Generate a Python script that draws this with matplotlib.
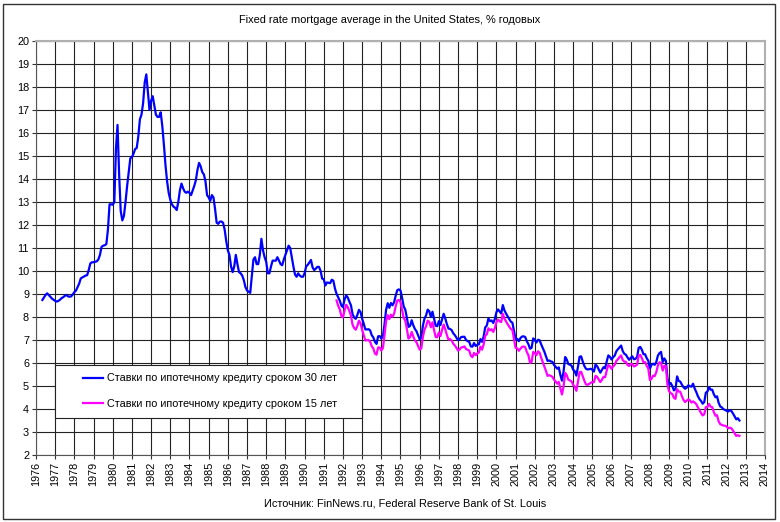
import numpy as np
import matplotlib.pyplot as plt
from matplotlib.patches import Rectangle

plt.rcParams['font.family'] = ['Liberation Sans', 'DejaVu Sans']

# 30-year fixed rate, monthly averages, May 1976 .. Sep 2012
rate30_start = 1976 + 4 / 12
rate30 = [
    # 1976 (May-Dec)
    8.74, 8.85, 8.96, 9.03, 8.95, 8.88, 8.80, 8.75,
    # 1977
    8.70, 8.67, 8.70, 8.75, 8.82, 8.86, 8.92, 8.96, 8.90, 8.88, 8.90, 8.98,
    # 1978
    9.08, 9.15, 9.30, 9.45, 9.68, 9.72, 9.76, 9.80, 9.82, 10.05, 10.33, 10.38,
    # 1979
    10.38, 10.40, 10.42, 10.50, 10.70, 11.05, 11.10, 11.12, 11.17, 11.80, 12.90, 12.90,
    # 1980
    12.88, 13.00, 15.30, 16.35, 14.20, 12.60, 12.20, 12.40, 13.00, 13.70, 14.30, 14.90,
    # 1981
    14.95, 15.10, 15.30, 15.35, 15.85, 16.60, 16.80, 17.30, 18.20, 18.55, 17.80, 17.00,
    # 1982
    17.40, 17.60, 17.20, 16.80, 16.70, 16.70, 16.90, 16.30, 15.50, 14.60, 13.90, 13.40,
    # 1983
    13.10, 12.90, 12.80, 12.75, 12.65, 13.00, 13.50, 13.80, 13.60, 13.45, 13.40, 13.45,
    # 1984
    13.40, 13.30, 13.50, 13.70, 13.95, 14.40, 14.70, 14.55, 14.30, 14.20, 13.90, 13.30,
    # 1985
    13.20, 13.05, 13.30, 13.20, 12.70, 12.10, 12.05, 12.15, 12.15, 12.10, 11.80, 11.30,
    # 1986
    10.90, 10.70, 10.20, 9.95, 10.20, 10.70, 10.30, 9.95, 9.90, 9.80, 9.60, 9.30,
    # 1987
    9.15, 9.10, 9.05, 9.80, 10.50, 10.60, 10.30, 10.30, 10.70, 11.40, 10.90, 10.60,
    # 1988
    10.40, 9.90, 9.90, 10.20, 10.45, 10.45, 10.45, 10.60, 10.45, 10.30, 10.25, 10.50,
    # 1989
    10.70, 10.90, 11.10, 11.00, 10.60, 10.20, 9.85, 9.75, 9.90, 9.80, 9.75, 9.75,
    # 1990
    9.90, 10.20, 10.27, 10.37, 10.48, 10.16, 10.04, 10.10, 10.18, 10.18, 10.01, 9.67,
    # 1991
    9.64, 9.37, 9.50, 9.49, 9.47, 9.62, 9.58, 9.24, 9.01, 8.86, 8.71, 8.50,
    # 1992
    8.43, 8.76, 8.94, 8.85, 8.67, 8.51, 8.13, 7.98, 7.92, 8.09, 8.31, 8.22,
    # 1993
    7.92, 7.71, 7.46, 7.46, 7.47, 7.42, 7.21, 7.11, 6.92, 6.83, 7.16, 7.17,
    # 1994
    7.06, 7.15, 7.68, 8.32, 8.60, 8.40, 8.61, 8.51, 8.64, 8.93, 9.17, 9.20,
    # 1995
    9.15, 8.83, 8.46, 8.32, 7.96, 7.57, 7.61, 7.86, 7.64, 7.48, 7.38, 7.20,
    # 1996
    7.03, 7.08, 7.62, 7.93, 8.07, 8.32, 8.25, 8.00, 8.23, 7.92, 7.62, 7.60,
    # 1997
    7.82, 7.65, 7.90, 8.14, 7.94, 7.69, 7.50, 7.48, 7.43, 7.29, 7.21, 7.10,
    # 1998
    6.99, 7.04, 7.13, 7.14, 7.14, 7.00, 6.95, 6.92, 6.72, 6.71, 6.87, 6.74,
    # 1999
    6.79, 6.81, 7.04, 6.92, 7.15, 7.55, 7.63, 7.94, 7.82, 7.85, 7.74, 7.91,
    # 2000
    8.21, 8.33, 8.24, 8.15, 8.52, 8.29, 8.15, 8.03, 7.91, 7.80, 7.75, 7.38,
    # 2001
    7.03, 7.05, 6.95, 7.08, 7.15, 7.16, 7.13, 6.95, 6.82, 6.62, 6.66, 7.07,
    # 2002
    7.00, 6.89, 7.01, 6.99, 6.81, 6.65, 6.49, 6.29, 6.09, 6.11, 6.07, 6.05,
    # 2003
    5.92, 5.84, 5.75, 5.81, 5.48, 5.23, 5.63, 6.26, 6.15, 5.95, 5.93, 5.88,
    # 2004
    5.71, 5.64, 5.45, 5.83, 6.27, 6.29, 6.06, 5.87, 5.75, 5.72, 5.73, 5.75,
    # 2005
    5.71, 5.63, 5.93, 5.86, 5.72, 5.58, 5.70, 5.82, 5.77, 6.07, 6.33, 6.27,
    # 2006
    6.15, 6.25, 6.32, 6.51, 6.60, 6.68, 6.76, 6.52, 6.40, 6.36, 6.24, 6.14,
    # 2007
    6.22, 6.29, 6.16, 6.18, 6.26, 6.66, 6.70, 6.57, 6.38, 6.38, 6.21, 6.10,
    # 2008
    5.76, 5.92, 5.97, 5.92, 6.04, 6.32, 6.43, 6.48, 6.04, 6.20, 6.09, 5.33,
    # 2009
    5.06, 5.13, 5.00, 4.81, 4.86, 5.42, 5.22, 5.19, 5.06, 4.95, 4.88, 4.93,
    # 2010
    5.03, 4.99, 4.97, 5.10, 4.89, 4.74, 4.56, 4.43, 4.35, 4.23, 4.30, 4.71,
    # 2011
    4.76, 4.95, 4.84, 4.84, 4.64, 4.51, 4.55, 4.27, 4.11, 4.07, 3.99, 3.96,
    # 2012
    3.92, 3.89, 3.95, 3.91, 3.80, 3.68, 3.55, 3.60, 3.50,
]

# 15-year fixed rate, monthly averages, Sep 1991 .. Sep 2012
rate15_start = 1991 + 8 / 12
rate15 = [
    # 1991 (Sep-Dec)
    8.72, 8.49, 8.33, 8.05,
    # 1992
    7.98, 8.28, 8.53, 8.43, 8.26, 8.07, 7.67, 7.52, 7.45, 7.61, 7.84, 7.73,
    # 1993
    7.44, 7.21, 6.98, 6.99, 7.00, 6.93, 6.73, 6.63, 6.41, 6.36, 6.68, 6.67,
    # 1994
    6.54, 6.65, 7.21, 7.82, 8.08, 7.91, 8.10, 8.01, 8.14, 8.47, 8.72, 8.74,
    # 1995
    8.65, 8.31, 7.96, 7.84, 7.47, 7.06, 7.12, 7.35, 7.15, 6.99, 6.90, 6.74,
    # 1996
    6.58, 6.63, 7.13, 7.45, 7.60, 7.84, 7.79, 7.55, 7.77, 7.43, 7.13, 7.12,
    # 1997
    7.33, 7.17, 7.44, 7.67, 7.47, 7.22, 7.02, 7.04, 6.98, 6.84, 6.76, 6.66,
    # 1998
    6.54, 6.59, 6.68, 6.69, 6.72, 6.61, 6.57, 6.54, 6.32, 6.25, 6.44, 6.34,
    # 1999
    6.41, 6.45, 6.71, 6.58, 6.80, 7.18, 7.25, 7.51, 7.42, 7.47, 7.35, 7.51,
    # 2000
    7.78, 7.89, 7.81, 7.78, 8.14, 7.93, 7.81, 7.69, 7.58, 7.48, 7.44, 7.03,
    # 2001
    6.66, 6.64, 6.53, 6.62, 6.70, 6.72, 6.69, 6.48, 6.34, 6.01, 6.04, 6.48,
    # 2002
    6.43, 6.34, 6.51, 6.45, 6.23, 6.04, 5.86, 5.65, 5.44, 5.47, 5.44, 5.40,
    # 2003
    5.28, 5.20, 5.10, 5.18, 4.89, 4.63, 4.97, 5.57, 5.47, 5.27, 5.24, 5.20,
    # 2004
    5.05, 4.97, 4.79, 5.18, 5.60, 5.62, 5.43, 5.23, 5.07, 5.05, 5.09, 5.14,
    # 2005
    5.17, 5.16, 5.44, 5.40, 5.28, 5.17, 5.27, 5.40, 5.38, 5.67, 5.91, 5.86,
    # 2006
    5.75, 5.85, 5.92, 6.09, 6.16, 6.26, 6.33, 6.13, 6.06, 6.05, 5.91, 5.87,
    # 2007
    5.96, 5.95, 5.85, 5.88, 5.93, 6.32, 6.35, 6.21, 6.03, 6.04, 5.88, 5.76,
    # 2008
    5.26, 5.31, 5.45, 5.43, 5.60, 5.89, 6.03, 6.01, 5.67, 5.88, 5.87, 5.04,
    # 2009
    4.77, 4.69, 4.65, 4.49, 4.44, 4.86, 4.76, 4.75, 4.56, 4.40, 4.30, 4.36,
    # 2010
    4.42, 4.38, 4.28, 4.33, 4.28, 4.21, 4.08, 3.96, 3.82, 3.72, 3.77, 4.08,
    # 2011
    4.09, 4.22, 4.10, 4.08, 3.86, 3.71, 3.73, 3.46, 3.34, 3.31, 3.28, 3.27,
    # 2012
    3.24, 3.16, 3.19, 3.16, 3.06, 2.94, 2.83, 2.86, 2.83,
]

years = list(range(1976, 2015))
yticks = list(range(2, 21))
title = "Fixed rate mortgage average in the United States, % годовых"
source = "Источник: FinNews.ru, Federal Reserve Bank of St. Louis"
label30 = "Ставки по ипотечному кредиту сроком 30 лет"
label15 = "Ставки по ипотечному кредиту сроком 15 лет"

x30 = rate30_start + np.arange(len(rate30)) / 12
x15 = rate15_start + np.arange(len(rate15)) / 12

fig = plt.figure(figsize=(7.8, 5.22), dpi=100)
ax = fig.add_axes([36 / 780, 1 - 455 / 522, 729 / 780, 414 / 522])

ax.plot(x30, rate30, color='#0000FF', lw=1.6, label=label30)
ax.plot(x15, rate15, color='#FF00FF', lw=1.6, label=label15)

ax.set_xlim(years[0], years[-1])
ax.set_ylim(yticks[0], yticks[-1])
ax.set_xticks(years)
ax.set_xticklabels([str(y) for y in years], rotation=90, fontsize=7.8)
ax.set_yticks(yticks)
ax.set_yticklabels([str(y) for y in yticks], fontsize=7.8)
ax.tick_params(direction='out', length=3, width=0.8, color='#333333', pad=2)
ax.grid(True, color='#222222', lw=0.8)
ax.set_axisbelow(True)
for side in ['top', 'right']:
    ax.spines[side].set_color('#b0b0b0')
    ax.spines[side].set_linewidth(1.5)
for side in ['left', 'bottom']:
    ax.spines[side].set_color('#555555')

# legend box (Excel style: plain frame, entries indented)
ax.add_patch(Rectangle((19 / 729, 37 / 414), 307 / 729, 53 / 414, transform=ax.transAxes,
                       facecolor='white', edgecolor='#222222', lw=0.8, zorder=4))
leg = ax.legend(loc='center left', bbox_to_anchor=(47 / 729, 64 / 414), fontsize=7.8,
                frameon=False, borderpad=0, borderaxespad=0, handlelength=1.85,
                labelspacing=1.4, handletextpad=0.4)
leg.set_zorder(5)

fig.text(0.5, 1 - 20 / 522, title, ha='center', va='center', fontsize=7.9)
fig.text(405 / 780, 1 - 503 / 522, source, ha='center', va='center', fontsize=7.9)

fig.patches.append(Rectangle((3 / 780, 3 / 522), 772 / 780, 515 / 522, transform=fig.transFigure,
                             fill=False, edgecolor='#333333', lw=1.0))

fig.savefig('out.png', dpi=100)
